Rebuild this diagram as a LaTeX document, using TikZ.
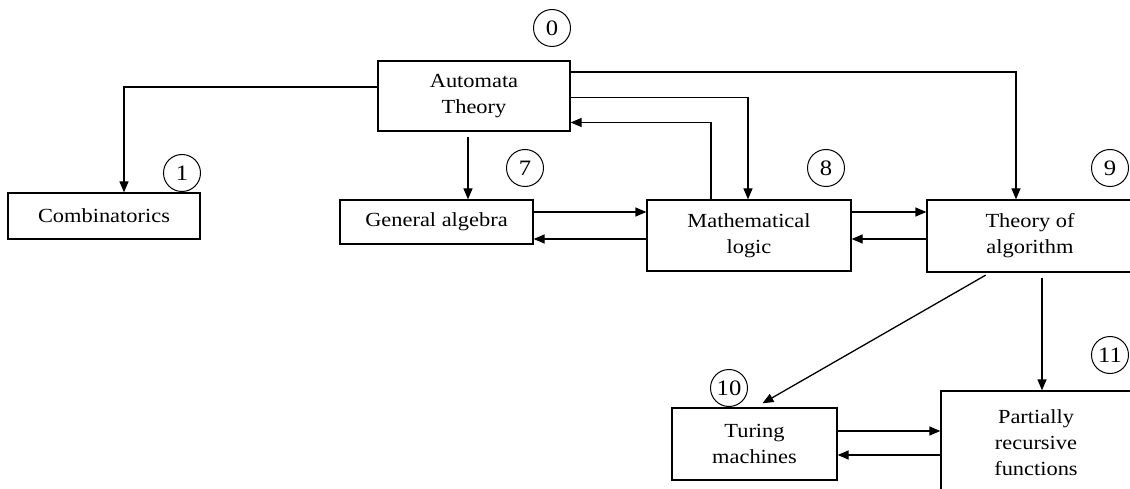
\documentclass[tikz,border=0pt]{standalone}
\usepackage{fontspec}
\setmainfont[FakeStretch=1.12]{Liberation Serif}
\usetikzlibrary{arrows.meta}
\tikzset{
  box/.style={draw, line width=1.3pt, rectangle, align=center, inner sep=0pt,
    font=\fontsize{20}{26}\selectfont},
  num/.style={draw, line width=1pt, circle, minimum size=37pt, inner sep=0pt,
    font=\fontsize{22}{24}\selectfont},
  arr/.style={line width=1.3pt, -{Triangle[length=11pt,width=9pt]}},
}
\begin{document}
\begin{tikzpicture}[x=1pt,y=-1pt]
\useasboundingbox (0,0) rectangle (1130,489);
\clip (0,0) rectangle (1130,489);
\fill[white] (0,0) rectangle (1130,489);
% boxes
\node[box, minimum width=192pt, minimum height=70pt] (A) at (474,96) {Automata\\Theory};
\node[box, minimum width=192pt, minimum height=46pt] (C) at (104,216) {Combinatorics};
\node[box, minimum width=193pt, minimum height=44pt] (G) at (436.5,222) {General algebra};
\node[box, minimum width=204pt, minimum height=71pt] (M) at (749,235.5) {Mathematical\\logic};
\node[box, minimum width=206pt, minimum height=72pt] (T) at (1030,236) {Theory of\\algorithm};
\node[box, minimum width=165pt, minimum height=72pt] (U) at (754.5,444) {Turing\\machines};
\node[box, minimum width=190pt, minimum height=104pt] (P) at (1036,443) {Partially\\recursive\\functions};
% numbers
\node[num] (n0) at (552,28) {0};
\node[num] (n1) at (182,173) {1};
\node[num] (n7) at (525,168) {7};
\node[num] (n8) at (826,168) {8};
\node[num] (n9) at (1110,168) {9};
\node[num] (n10) at (729,388) {10};
\node[num] (n11) at (1110,355) {11};
% connectors
\draw[arr] ([yshift=9pt]A.west) -| ([xshift=20pt]C.north);
\coordinate (a1) at ([xshift=-6pt,yshift=-5pt]A.south);
\draw[arr] (a1) -- (a1 |- G.north);
\draw[arr] ([yshift=24pt]A.east) -| ([xshift=-14pt]T.north);
\draw[arr] ([yshift=-1.5pt]A.east) -| ([xshift=-1pt]M.north);
\draw[arr] ([xshift=-38pt]M.north) |- ([yshift=-26.5pt]A.east);
\coordinate (g1) at ([yshift=10pt]G.east);
\coordinate (g2) at ([yshift=-17pt]G.east);
\draw[arr] (g1) -- (g1 -| M.west);
\draw[arr] (g2 -| M.west) -- (g2);
\coordinate (m1) at ([yshift=23.5pt]M.east);
\coordinate (m2) at ([yshift=-3.5pt]M.east);
\draw[arr] (m1) -- (m1 -| T.west);
\draw[arr] (m2 -| T.west) -- (m2);
\draw[arr, shorten <=5pt] ([xshift=-40pt]T.south) -- ([xshift=8pt,yshift=4pt]U.north);
\coordinate (t1) at ([xshift=12pt,yshift=-5pt]T.south);
\draw[arr] (t1) -- (t1 |- P.north);
\coordinate (u1) at ([yshift=13pt]U.east);
\coordinate (u2) at ([yshift=-11pt]U.east);
\draw[arr] (u1) -- (u1 -| P.west);
\draw[arr] (u2 -| P.west) -- (u2);
\end{tikzpicture}
\end{document}
